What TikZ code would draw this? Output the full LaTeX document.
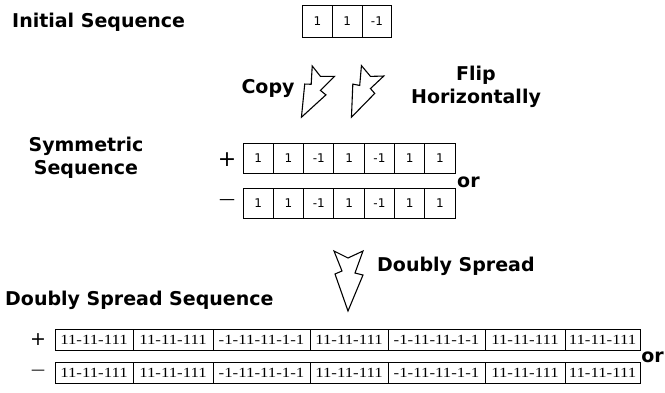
\documentclass[tikz,border=0pt]{standalone}
\usepackage{fontspec}
\setmainfont{DejaVu Sans}
\newfontfamily\cellserif[FakeStretch=1.2]{Liberation Serif}
\usepackage{tikz}
\usetikzlibrary{positioning}

\begin{document}
\begin{tikzpicture}[
    x=1pt, y=-1pt,
    label/.style={font=\fontsize{19}{23}\selectfont\bfseries, inner sep=0pt, align=center},
    cell/.style={rectangle, draw, line width=1pt, minimum width=30.3pt, minimum height=30pt, inner sep=0pt, outer sep=0pt, font=\fontsize{12}{14}\selectfont},
    widecell/.style={rectangle, draw, line width=0.8pt, minimum height=21pt, inner sep=0pt, outer sep=0pt, font=\cellserif\fontsize{14}{16}\selectfont},
    sign/.style={inner sep=0pt},
    zigarrow/.pic={\draw[line width=1.1pt, fill=white] (-14,0) -- (0,7) -- (15,0) -- (7,22) -- (15,24) -- (0,60) -- (-13,23) -- (-6,20) -- cycle;}
]
\useasboundingbox (0,0) rectangle (665,392);

% labels
\node[label, anchor=west] (initlabel) at (12,22) {Initial Sequence};
\node[label] (copylabel) at (268,88) {Copy};
\node[label] (fliplabel) at (476,87) {Flip\\Horizontally};
\node[label] (symlabel) at (86,158) {Symmetric\\Sequence};
\node[label, anchor=west] (spreadlabel) at (377,266) {Doubly Spread};
\node[label, anchor=west] (dslabel) at (5,300) {Doubly Spread Sequence};

% initial sequence
\node[cell, minimum width=29.7pt, minimum height=32pt] (i1) at (317.5,21) {1};
\node[cell, minimum width=29.7pt, minimum height=32pt, right=0pt of i1] (i2) {1};
\node[cell, minimum width=29.7pt, minimum height=32pt, right=0pt of i2] (i3) {-1};

% symmetric sequence
\node[cell] (sp1) at (258.2,158) {1};
\foreach \v [count=\i from 2] in {1,-1,1,-1,1,1}{
  \pgfmathtruncatemacro\prev{\i-1}
  \node[cell, right=0pt of sp\prev] (sp\i) {\v};
}
\node[cell] (sm1) at (258.2,203.5) {1};
\foreach \v [count=\i from 2] in {1,-1,1,-1,1,1}{
  \pgfmathtruncatemacro\prev{\i-1}
  \node[cell, right=0pt of sm\prev] (sm\i) {\v};
}
\node[sign, font=\fontsize{22}{22}\selectfont] (spplus) at (227,160) {+};
\node[sign, font=\fontsize{16}{16}\selectfont] (smminus) at (227,202) {—};
\node[label, anchor=west] (spor) at (457,182) {or};

% doubly spread sequence
\node[widecell, minimum width=78pt, anchor=west] (dp1) at (55,340) {11-11-111};
\foreach \t/\w [count=\i from 2] in {11-11-111/80, -1-11-11-1-1/97, 11-11-111/78, -1-11-11-1-1/97, 11-11-111/80, 11-11-111/75}{
  \pgfmathtruncatemacro\prev{\i-1}
  \node[widecell, minimum width=\w pt, right=0pt of dp\prev] (dp\i) {\t};
}
\node[widecell, minimum width=78pt, anchor=west] (dm1) at (55,373) {11-11-111};
\foreach \t/\w [count=\i from 2] in {11-11-111/80, -1-11-11-1-1/97, 11-11-111/78, -1-11-11-1-1/97, 11-11-111/80, 11-11-111/75}{
  \pgfmathtruncatemacro\prev{\i-1}
  \node[widecell, minimum width=\w pt, right=0pt of dm\prev] (dm\i) {\t};
}
\node[sign, font=\fontsize{19}{19}\selectfont] (dpplus) at (38,340) {+};
\node[sign, font=\fontsize{14}{14}\selectfont] (dmminus) at (38,372) {—};
\node[label, anchor=east] (dpor) at (664,357) {or};

% arrows
\pic[scale=0.85, rotate=-25] at (323,71) {zigarrow};
\pic[xscale=-0.85, yscale=0.85, rotate=25] at (373,71) {zigarrow};
\pic at (348,251) {zigarrow};
\end{tikzpicture}
\end{document}
